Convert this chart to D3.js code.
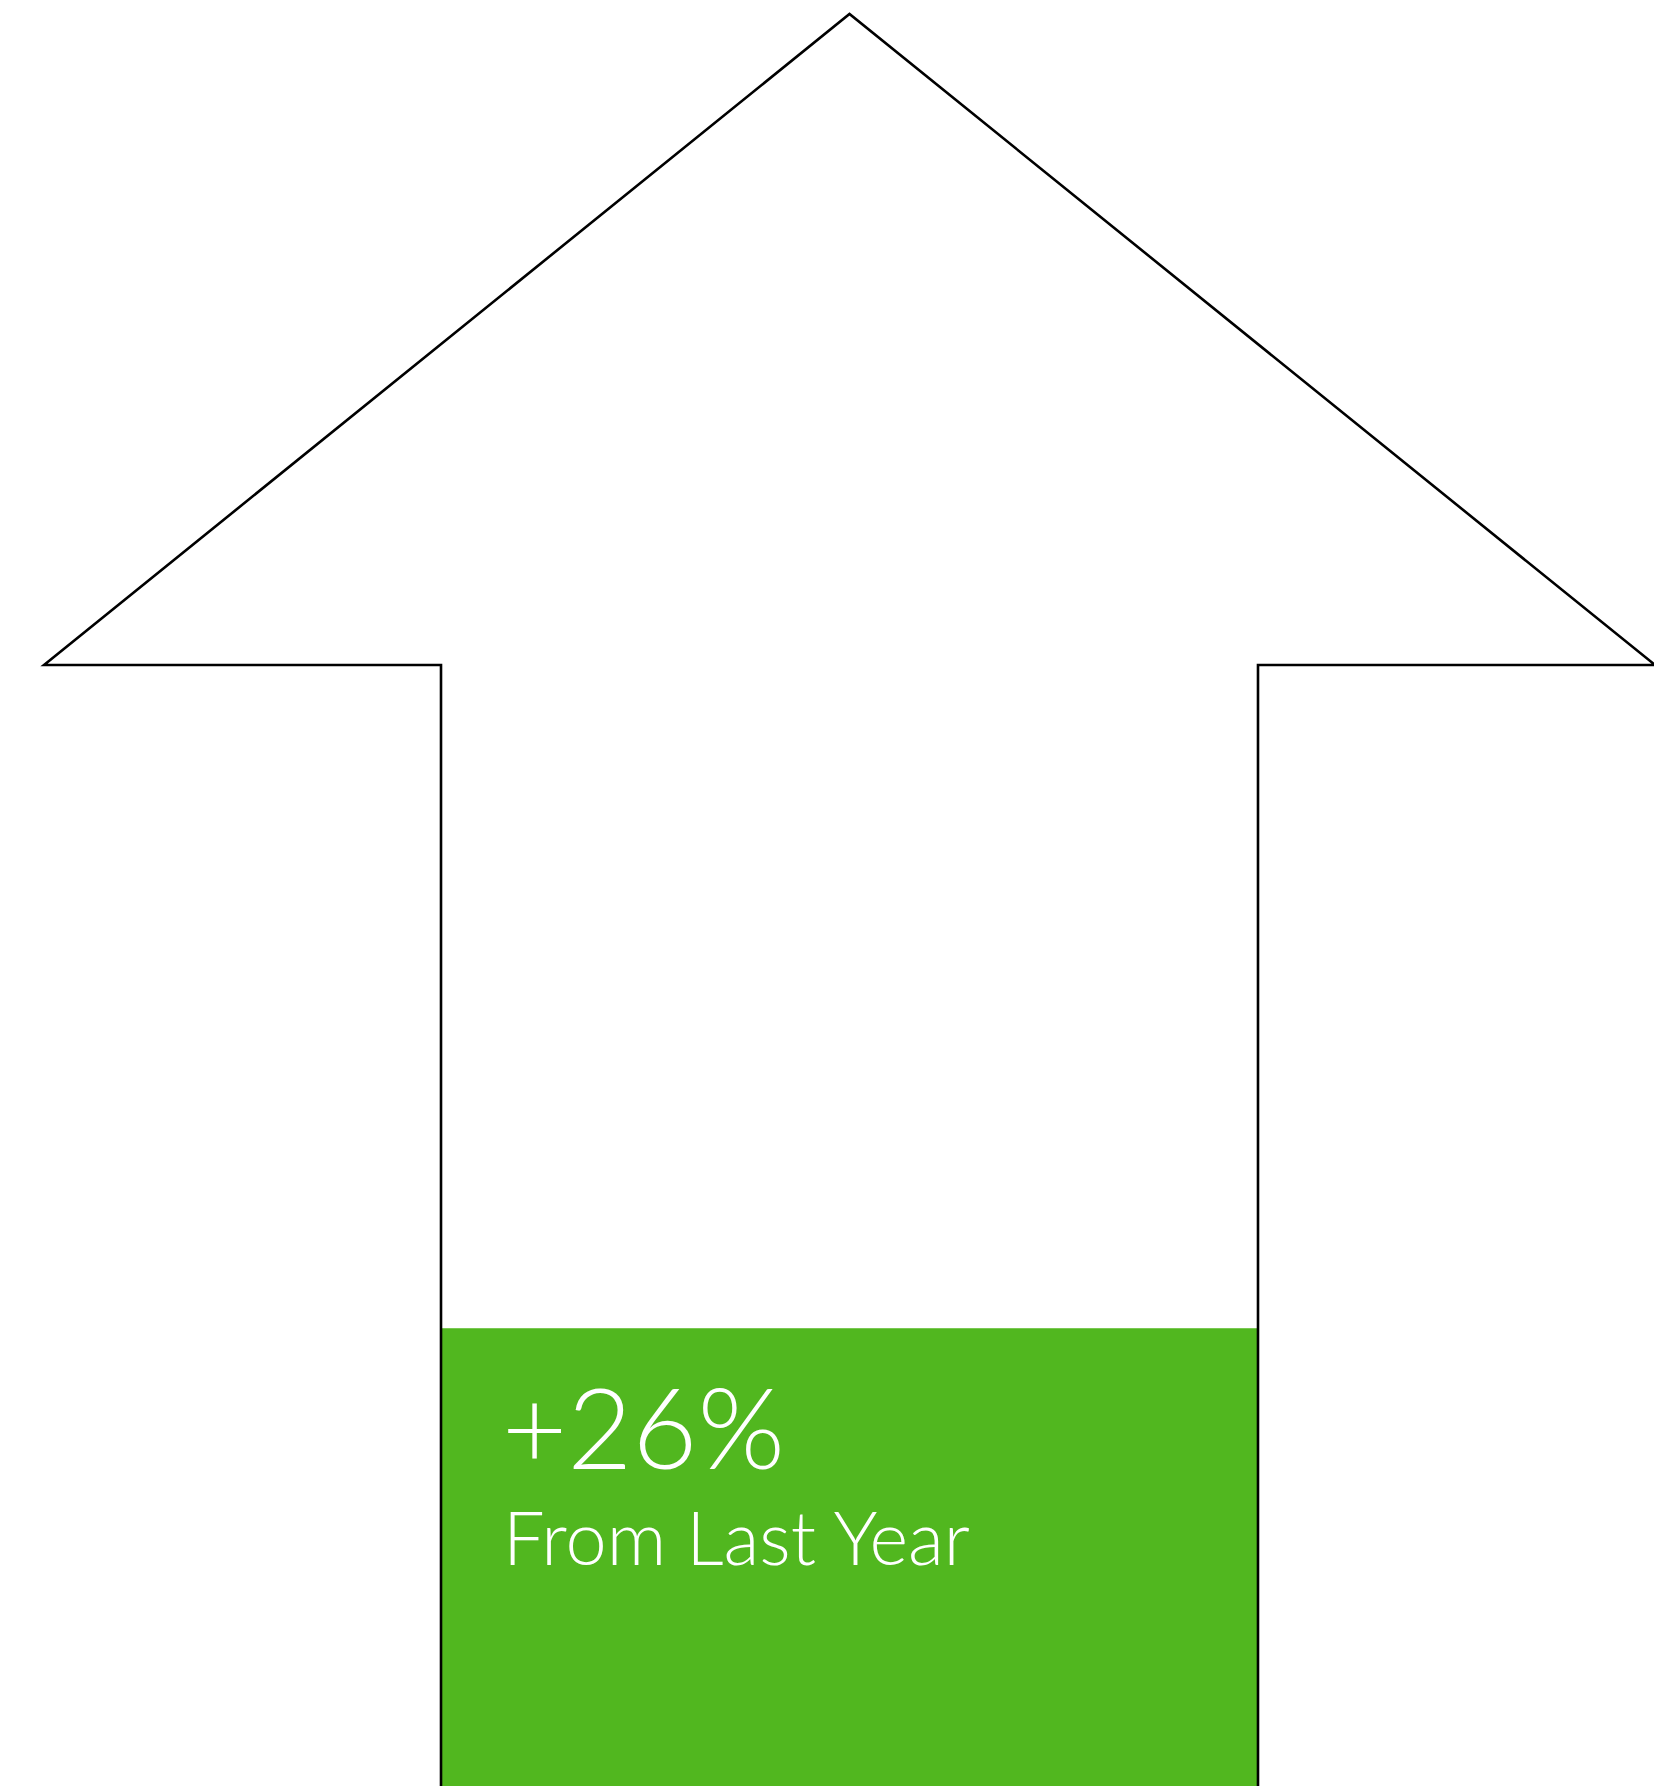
<!DOCTYPE html>
<html>
<head>
<meta charset="utf-8">
<script src="https://cdn.jsdelivr.net/npm/d3@7"></script>
<style>
  html, body { margin: 0; padding: 0; background: #ffffff; }
  svg { display: block; }
</style>
</head>
<body>
<script>
// Year-over-year change shown as a filled arrow
const changeLabels = ["+26%"];
const changeValues = [26];
const captionLines = ["From Last Year"];

const W = 1654, H = 1786;
const svg = d3.select("body").append("svg")
  .attr("width", W).attr("height", H);

// Vertical fill scale: 0% at the foot of the arrow, 100% at its tip
const y = d3.scaleLinear().domain([0, 100]).range([1790, 14]);
// Horizontal layout of the arrow
const x = d3.scaleLinear().domain([0, 1]).range([44, 1655]);

const tipX = x(0.5);
const wingY = 665;
const shaftL = 441, shaftR = 1258;

// Fill level inside the shaft
svg.append("rect")
  .attr("x", shaftL)
  .attr("y", y(changeValues[0]))
  .attr("width", shaftR - shaftL)
  .attr("height", y(0) - y(changeValues[0]) + 20)
  .attr("fill", "#51b71f");

// Arrow outline
const outline = [
  [x(0), wingY],
  [tipX, y(100)],
  [x(1), wingY],
  [shaftR, wingY],
  [shaftR, H + 20],
  [shaftL, H + 20],
  [shaftL, wingY]
];
svg.append("path")
  .attr("d", d3.line()(outline) + "Z")
  .attr("fill", "none")
  .attr("stroke", "#000")
  .attr("stroke-width", 2.6)
  .attr("stroke-linejoin", "miter");

// Labels
const big = svg.append("text")
  .attr("x", 502)
  .attr("y", 1469)
  .attr("fill", "#ffffff")
  .style("font-family", "Lato, 'Open Sans', sans-serif")
  .style("font-weight", 300)
  .style("font-size", "112px")
  .text(changeLabels[0]);

const cap = svg.append("text")
  .attr("x", 503)
  .attr("y", 1565)
  .attr("fill", "#ffffff")
  .style("font-family", "Lato, 'Open Sans', sans-serif")
  .style("font-weight", 300)
  .style("font-size", "74px")
  .text(captionLines[0]);

// Stretch each label to its set width
const fit = (sel, target) => {
  sel.attr("textLength", target).attr("lengthAdjust", "spacingAndGlyphs");
};
fit(big, 283);
fit(cap, 467);
</script>
</body>
</html>
